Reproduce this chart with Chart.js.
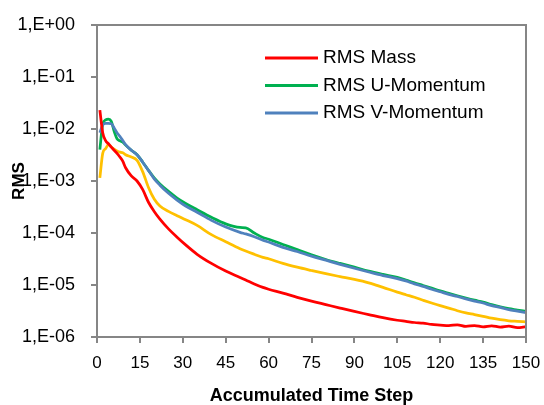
<!DOCTYPE html>
<html>
<head>
<meta charset="utf-8">
<title>RMS residuals</title>
<script src="https://cdn.jsdelivr.net/npm/chart.js@4.4.1/dist/chart.umd.min.js"></script>
<style>
  html, body { margin: 0; padding: 0; background: #fff; }
  #wrap { width: 544px; height: 405px; }
</style>
</head>
<body>
<div id="wrap"><canvas id="rmsChart"></canvas></div>
<script>
// accumulated time steps (x)
const steps = [1, 2, 3, 4, 5, 6, 7, 8, 9, 10, 12, 14, 16, 18, 20, 22, 25, 28, 31, 35,
  40, 45, 50, 52, 55, 58, 60, 65, 70, 75, 80, 85, 90, 95, 100, 105, 108, 111, 114, 117,
  120, 123, 126, 129, 132, 135, 138, 141, 144, 147, 150];

const rmsMass = [2.3e-2, 8.5e-3, 6.0e-3, 5.2e-3, 4.5e-3, 3.9e-3, 3.4e-3, 2.9e-3, 2.4e-3, 1.8e-3,
  1.25e-3, 1.0e-3, 6.8e-4, 3.9e-4, 2.6e-4, 1.85e-4, 1.2e-4, 8.3e-5, 5.9e-5, 3.9e-5,
  2.6e-5, 1.85e-5, 1.4e-5, 1.25e-5, 1.05e-5, 9.0e-6, 8.3e-6, 7.0e-6, 5.8e-6, 4.9e-6,
  4.2e-6, 3.6e-6, 3.1e-6, 2.7e-6, 2.35e-6, 2.1e-6, 2.0e-6, 1.9e-6, 1.85e-6, 1.75e-6,
  1.7e-6, 1.65e-6, 1.72e-6, 1.6e-6, 1.66e-6, 1.57e-6, 1.64e-6, 1.55e-6, 1.62e-6, 1.52e-6, 1.58e-6];

const rmsU = [4.0e-3, 1.25e-2, 1.5e-2, 1.55e-2, 1.4e-2, 9.0e-3, 6.5e-3, 5.9e-3, 5.6e-3, 4.9e-3,
  3.9e-3, 3.2e-3, 2.3e-3, 1.6e-3, 1.15e-3, 8.8e-4, 6.3e-4, 4.7e-4, 3.7e-4, 2.8e-4,
  2.0e-4, 1.5e-4, 1.28e-4, 1.26e-4, 1.0e-4, 8.2e-5, 7.6e-5, 6.0e-5, 4.8e-5, 3.8e-5,
  3.1e-5, 2.6e-5, 2.2e-5, 1.85e-5, 1.6e-5, 1.4e-5, 1.25e-5, 1.1e-5, 9.8e-6, 8.7e-6,
  7.7e-6, 6.9e-6, 6.2e-6, 5.6e-6, 5.1e-6, 4.7e-6, 4.2e-6, 3.8e-6, 3.5e-6, 3.3e-6, 3.1e-6];

const rmsV = [8.5e-3, 1.2e-2, 1.28e-2, 1.28e-2, 1.26e-2, 1.05e-2, 8.5e-3, 7.2e-3, 6.0e-3, 5.0e-3,
  3.9e-3, 3.2e-3, 2.3e-3, 1.6e-3, 1.1e-3, 8.3e-4, 5.8e-4, 4.3e-4, 3.3e-4, 2.5e-4,
  1.75e-4, 1.3e-4, 1.03e-4, 9.6e-5, 8.5e-5, 7.3e-5, 6.7e-5, 5.3e-5, 4.4e-5, 3.6e-5,
  3.0e-5, 2.5e-5, 2.1e-5, 1.78e-5, 1.52e-5, 1.33e-5, 1.2e-5, 1.05e-5, 9.4e-6, 8.3e-6,
  7.4e-6, 6.6e-6, 6.0e-6, 5.4e-6, 4.9e-6, 4.5e-6, 4.0e-6, 3.7e-6, 3.35e-6, 3.15e-6, 2.95e-6];

const rmsW = [1.15e-3, 3.4e-3, 4.2e-3, 5.0e-3, 4.5e-3, 4.1e-3, 3.8e-3, 3.6e-3, 3.5e-3, 3.2e-3,
  2.9e-3, 2.5e-3, 1.5e-3, 7.5e-4, 4.5e-4, 3.3e-4, 2.6e-4, 2.15e-4, 1.8e-4, 1.4e-4,
  9.3e-5, 6.8e-5, 5.0e-5, 4.5e-5, 3.9e-5, 3.4e-5, 3.2e-5, 2.6e-5, 2.2e-5, 1.9e-5,
  1.65e-5, 1.45e-5, 1.28e-5, 1.1e-5, 9.0e-6, 7.3e-6, 6.5e-6, 5.8e-6, 5.1e-6, 4.5e-6,
  4.0e-6, 3.6e-6, 3.2e-6, 2.9e-6, 2.7e-6, 2.5e-6, 2.3e-6, 2.15e-6, 2.05e-6, 2.0e-6, 1.95e-6];

const seriesNames = ["RMS Mass", "RMS U-Momentum", "RMS V-Momentum", "RMS W-Momentum"];
const seriesColors = ["#FF0000", "#00B050", "#4F81BD", "#FFC000"];
const inLegend = [true, true, true, false];

const yTickValues = [1e-6, 1e-5, 1e-4, 1e-3, 1e-2, 1e-1, 1];
const yTickLabels = ["1,E-06", "1,E-05", "1,E-04", "1,E-03", "1,E-02", "1,E-01", "1,E+00"];

const FONT = '"Liberation Sans", Arial, sans-serif';
const AXIS_GREY = "#868686";

function toPoints(vals) {
    return steps.map((s, i) => ({ x: s, y: vals[i] }));
}

// frame round the plot, rotated "RMS" title and the legend inside the plot
const framePlugin = {
    id: "framePlugin",
    afterDatasetsDraw(chart) {
        const { ctx, chartArea: a } = chart;
        ctx.save();
        ctx.strokeStyle = AXIS_GREY;
        ctx.lineWidth = 2;
        ctx.strokeRect(a.left, a.top, a.right - a.left, a.bottom - a.top);

        // legend
        ctx.font = "19px " + FONT;
        ctx.textAlign = "left";
        ctx.textBaseline = "middle";
        let row = 0;
        chart.data.datasets.forEach((ds, i) => {
            if (!inLegend[i]) return;
            const y = 58 + row * 27.5;
            ctx.strokeStyle = ds.borderColor;
            ctx.lineWidth = 3;
            ctx.beginPath();
            ctx.moveTo(265, y);
            ctx.lineTo(318, y);
            ctx.stroke();
            ctx.fillStyle = "#000";
            ctx.fillText(ds.label, 323, y);
            row++;
        });

        // y axis title, sits over the tick labels like the original
        ctx.translate(19, 181);
        ctx.rotate(-Math.PI / 2);
        ctx.font = "bold 17px " + FONT;
        ctx.textAlign = "center";
        ctx.fillStyle = "#000";
        ctx.fillText("RMS", 0, 0);
        ctx.restore();
    }
};

document.addEventListener("DOMContentLoaded", function () {
    const ctx = document.getElementById("rmsChart").getContext("2d");
    const drawOrder = [0, 2, 1, 3]; // blue sits over green
    new Chart(ctx, {
        type: "line",
        data: {
            datasets: [rmsMass, rmsU, rmsV, rmsW].map((vals, i) => ({
                label: seriesNames[i],
                data: toPoints(vals),
                borderColor: seriesColors[i],
                backgroundColor: seriesColors[i],
                borderWidth: 2.75,
                pointRadius: 0,
                fill: false,
                cubicInterpolationMode: "monotone",
                order: drawOrder[i]
            }))
        },
        options: {
            responsive: true,
            maintainAspectRatio: false,
            animation: false,
            layout: { padding: { left: 0, top: 25, right: 18, bottom: 0 } },
            plugins: {
                legend: { display: false },
                tooltip: { enabled: false }
            },
            scales: {
                x: {
                    type: "linear",
                    min: 0,
                    max: 150,
                    afterFit: (s) => { s.height = 68; s.paddingLeft = 0; s.paddingRight = 0; },
                    border: { color: AXIS_GREY, width: 2 },
                    grid: { drawOnChartArea: false, drawTicks: true, tickLength: 6, color: AXIS_GREY, lineWidth: 2 },
                    ticks: { stepSize: 15, color: "#000", padding: 10, maxRotation: 0, font: { family: FONT, size: 17 } },
                    title: {
                        display: true,
                        text: "Accumulated Time Step",
                        color: "#000",
                        padding: 0,
                        font: { family: FONT, size: 18, weight: "bold", lineHeight: 1 }
                    }
                },
                y: {
                    type: "logarithmic",
                    min: 1e-6,
                    max: 1,
                    afterFit: (s) => { s.width = 97; s.paddingTop = 0; s.paddingBottom = 0; },
                    afterBuildTicks: (s) => { s.ticks = yTickValues.map(v => ({ value: v })); },
                    border: { color: AXIS_GREY, width: 2 },
                    grid: { drawOnChartArea: false, drawTicks: true, tickLength: 6, color: AXIS_GREY, lineWidth: 2 },
                    ticks: {
                        color: "#000",
                        padding: 16,
                        font: { family: FONT, size: 18 },
                        callback: (value, index) => yTickLabels[index]
                    }
                }
            }
        },
        plugins: [framePlugin]
    });
});
</script>
</body>
</html>
